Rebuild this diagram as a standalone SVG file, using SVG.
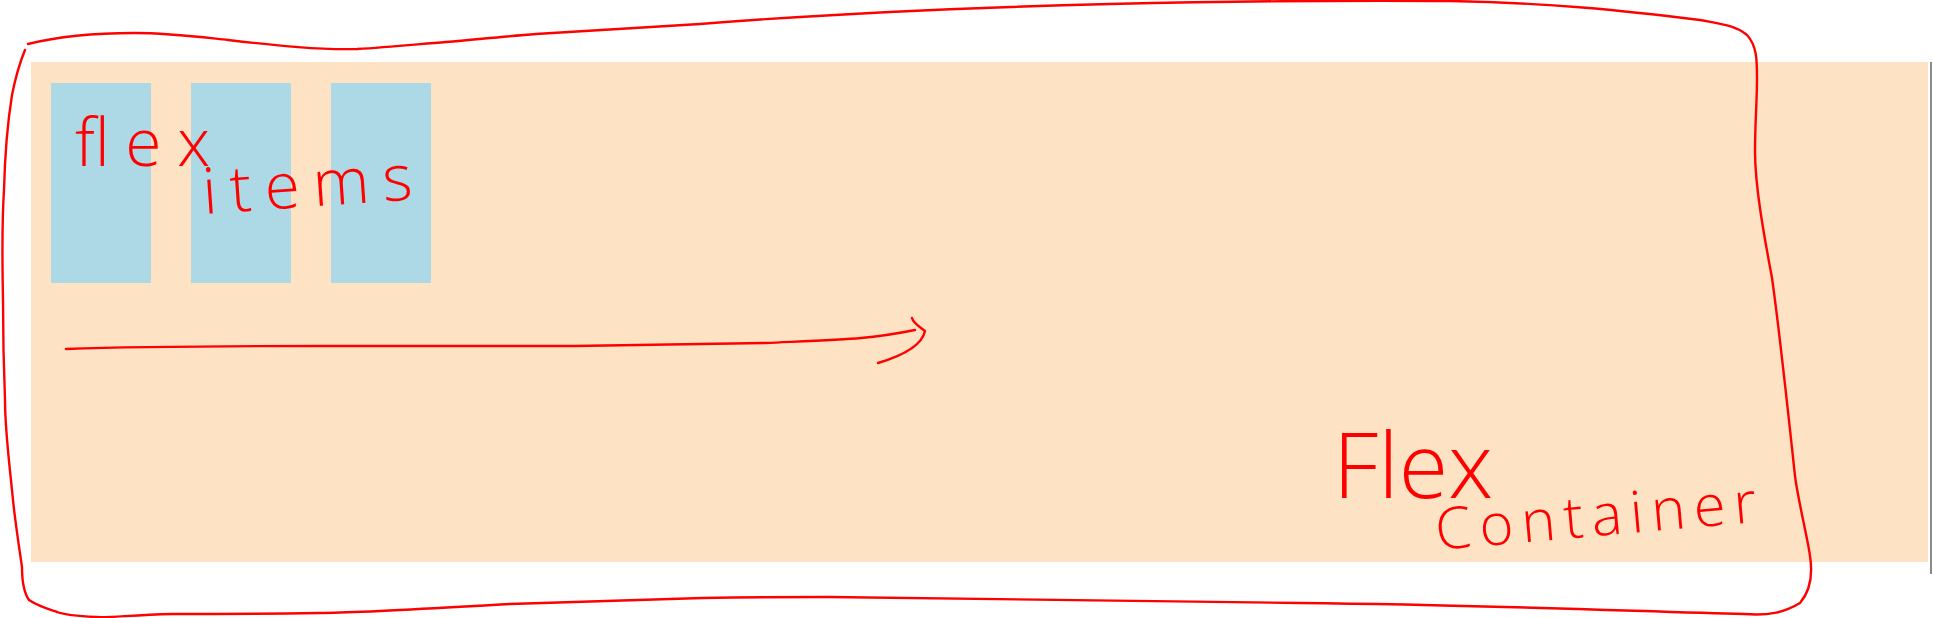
<svg xmlns="http://www.w3.org/2000/svg" width="1933" height="618" viewBox="0 0 1933 618">
<style>
.item{fill:#ADD8E6}
.ink{fill:none;stroke:#FF0000;stroke-width:2.4;stroke-linecap:round;stroke-linejoin:round}
.hand{fill:#FF0000;font-family:"Open Sans","Liberation Sans",sans-serif;font-weight:300}
</style>
<rect width="1933" height="618" fill="#FFFFFF"/>
<g id="flex-container">
<rect x="31" y="62" width="1897" height="500" fill="#FDE3C4"/>
<rect x="1930" y="62" width="2" height="512" fill="#8A8A8A"/>
</g>
<g id="item-1"><rect class="item" x="51" y="83" width="100" height="200"/></g>
<g id="item-2"><rect class="item" x="191" y="83" width="100" height="200"/></g>
<g id="item-3"><rect class="item" x="331" y="83" width="100" height="200"/></g>
<g id="connectors">
<path class="ink" d="M66,349 C150,346 250,346 319,346 C420,346 500,346 574,346 C650,345 720,344 765,343 C810,341 840,340 861,338 C885,336 900,333 915,330"/>
<path class="ink" d="M912,318 C913,323 920,327 925,331 C922,345 905,355 878,363"/>
</g>
<g id="annotations">
<path class="ink" d="M28,44 C60,36 100,33 134,33 C170,33 200,37 228,40 C280,46 320,50 357,49 C390,47 420,44 446,42 C480,39 510,36 536,34 C600,30 650,27 700,24 C800,16 950,8 1110,4 C1250,1 1350,0 1450,1 C1550,3 1620,10 1700,20 C1720,24 1735,25 1747,35 C1757,46 1757,60 1757,79 C1757,100 1755,125 1755,151 C1755,185 1763,230 1772,278 C1778,320 1789,420 1795,476 C1798,500 1808,540 1810,556 C1813,575 1811,590 1800,603 C1785,612 1770,616 1744,614 C1650,612 1500,605 1300,603 C1150,600 1000,599 829,597 C760,597 702,598 702,598 C620,600 560,602 510,604 C420,609 360,613 319,613 C250,614 200,614 172,614 C130,615 110,618 96,617 C75,616 62,614 57,612 C45,608 38,606 29,600 C22,590 22,575 22,567 C18,540 15,520 13,500 C9,460 5,430 5,400 C3,350 3,320 3,300 C2,250 2,220 4,190 C5,150 8,120 12,95 C16,75 20,62 25,50"/>
<text class="hand" x="75" y="166" font-size="66" textLength="135" lengthAdjust="spacing">flex</text>
<text class="hand" x="204" y="214" font-size="64" textLength="210" lengthAdjust="spacing" transform="rotate(-4 204 214)">items</text>
<text class="hand" x="1333" y="498" font-size="90" textLength="160" lengthAdjust="spacing">Flex</text>
<text class="hand" x="1437" y="550" font-size="58" textLength="322" lengthAdjust="spacing" transform="rotate(-5 1437 550)">Container</text>
</g>
</svg>
